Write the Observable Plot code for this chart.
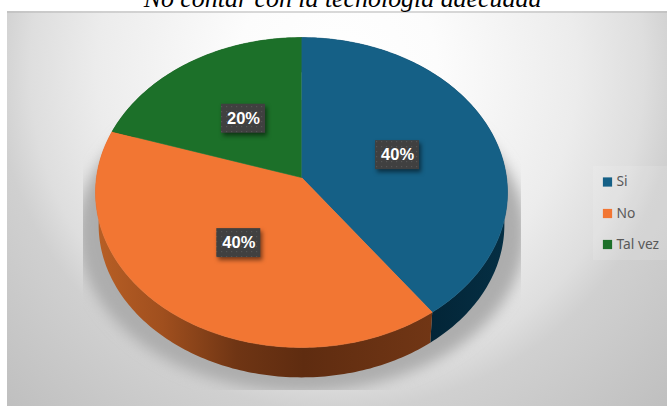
<!DOCTYPE html>
<html lang="es">
<head>
<meta charset="utf-8">
<title>No contar con la tecnología adecuada</title>
<script src="https://cdn.jsdelivr.net/npm/d3@7"></script>
<script src="https://cdn.jsdelivr.net/npm/@observablehq/plot@0.6"></script>
<style>
  html, body { margin: 0; padding: 0; background: #fff; overflow: hidden; }
  svg { display: block; }
</style>
</head>
<body>
<div id="chart"></div>
<script>
// Chart content
const titleText = "No contar con la tecnología adecuada";
const categories = ["Si", "No", "Tal vez"];
const shares = [40, 40, 20];

// Palette
const faceColors = ["#156086", "#f27633", "#1c7029"];
const wallFills = ["url(#wallBlue)", "url(#wallOrange)", "#0f3d15"];

// Perspective disc: a point on the unit circle is foreshortened towards the back edge
const cx = 301, cy = 177, halfWidth = 205, halfDepth = 153.5, tilt = 0.0968, thickness = 30;
const project = (angle, r = 1) => {
  const u = r * Math.sin(angle), v = -r * Math.cos(angle), w = 1 - tilt * v;
  return [cx + halfWidth * u / w, cy + halfDepth * v / w];
};
const lower = ([x, y]) => [cx + (x - cx) * 0.985, cy + (y - cy) * 0.985 + thickness + 2.5];

const arcs = d3.pie().sort(null).value(d => d)(shares);
const sweep = (a, b) => d3.range(a, b, Math.PI / 180).concat(b);

const faces = arcs.map(a => [[cx, cy], ...sweep(a.startAngle, a.endAngle).map(t => project(t))]);
const walls = arcs.map(a => {
  const rim = sweep(a.startAngle, a.endAngle).map(t => project(t));
  return [...rim, ...rim.slice().reverse().map(lower)];
});
const shadowRing = d3.range(0, 2 * Math.PI + 0.01, Math.PI / 90)
  .map(t => [cx + 224 * Math.sin(t), 232 - 160 * Math.cos(t)]);

const labelAnchors = arcs.map((a, i) => {
  const [x, y] = project((a.startAngle + a.endAngle) / 2, 0.5);
  return {x, y: y + 1, text: `${shares[i]}%`};
});
const legendRows = categories.map((name, i) => ({name, color: faceColors[i], y: [181.5, 213, 244][i]}));

// Gradients, the blurred ground shadow and the dotted label texture
const defs = () => {
  const g = document.createElementNS("http://www.w3.org/2000/svg", "g");
  g.innerHTML = `<defs>
    <radialGradient id="panelFill" gradientUnits="userSpaceOnUse" cx="337" cy="70" r="480">
      <stop offset="0" stop-color="#ffffff"/><stop offset="0.21" stop-color="#fcfcfc"/>
      <stop offset="0.5" stop-color="#ececec"/><stop offset="0.64" stop-color="#dedede"/>
      <stop offset="0.71" stop-color="#d0d0d0"/><stop offset="1" stop-color="#bebebe"/>
    </radialGradient>
    <linearGradient id="wallOrange" gradientUnits="userSpaceOnUse" x1="95" x2="431" y1="0" y2="0">
      <stop offset="0" stop-color="#b85f25"/><stop offset="0.2" stop-color="#a04f1e"/>
      <stop offset="0.42" stop-color="#6f3514"/><stop offset="0.62" stop-color="#5f2c10"/>
      <stop offset="1" stop-color="#713615"/>
    </linearGradient>
    <linearGradient id="wallBlue" gradientUnits="userSpaceOnUse" x1="431" x2="507" y1="0" y2="0">
      <stop offset="0" stop-color="#032537"/><stop offset="1" stop-color="#052f44"/>
    </linearGradient>
    <pattern id="labelDots" patternUnits="userSpaceOnUse" width="5" height="5">
      <rect width="5" height="5" fill="#404040"/><rect x="1" y="1" width="1.2" height="1.2" fill="#555555"/>
    </pattern>
    <filter id="groundShadow" filterUnits="userSpaceOnUse" x="83" y="100" width="437" height="289">
      <feGaussianBlur stdDeviation="7"/>
    </filter>
  </defs>`;
  return g;
};

const polygon = (points, fill, extra = {}) =>
  Plot.line(points, {x: d => d[0], y: d => d[1], fill, stroke: "none", ...extra});

const chart = Plot.plot({
  width: 667,
  height: 407,
  margin: 0,
  x: {domain: [0, 667], range: [0, 667], axis: null},
  y: {domain: [0, 407], range: [0, 407], axis: null},
  marks: [
    defs,
    Plot.rect([0], {x1: () => 7, x2: () => 667, y1: () => 11, y2: () => 406, fill: "url(#panelFill)"}),
    Plot.ruleY([11.5], {x1: 7, x2: 667, stroke: "#b4b4b4", strokeWidth: 1.2}),
    Plot.text([titleText], {
      x: () => 342, y: () => 6, text: d => d, lineAnchor: "bottom",
      fontFamily: "Liberation Serif", fontStyle: "italic", fontSize: 25.9, fill: "#000"
    }),
    polygon(shadowRing, "#adadad", {imageFilter: "url(#groundShadow)"}),
    ...walls.map((w, i) => polygon(w, wallFills[i])),
    ...faces.map((f, i) => polygon(f, faceColors[i], {stroke: faceColors[i], strokeWidth: 0.6})),
    // Value labels
    Plot.rect(labelAnchors, {
      x1: d => d.x - 22, x2: d => d.x + 22, y1: d => d.y - 14.5, y2: d => d.y + 14.5,
      fill: "url(#labelDots)", imageFilter: "drop-shadow(2px 3px 2px rgba(0,0,0,0.5))"
    }),
    Plot.text(labelAnchors, {
      x: "x", y: "y", text: "text", fill: "#fff", fontWeight: "bold", fontSize: 16.5,
      fontFamily: "Liberation Sans"
    }),
    // Legend
    Plot.rect([0], {x1: () => 593, x2: () => 667, y1: () => 166, y2: () => 260, fill: "#fff", fillOpacity: 0.12}),
    Plot.dot(legendRows, {x: () => 607, y: "y", symbol: "square", r: 5.2, fill: "color", stroke: "none"}),
    Plot.text(legendRows, {
      x: () => 616, y: "y", text: "name", textAnchor: "start", fill: "#595959",
      fontSize: 13.8, fontFamily: "Noto Sans"
    })
  ]
});
document.getElementById("chart").append(chart);
</script>
</body>
</html>
